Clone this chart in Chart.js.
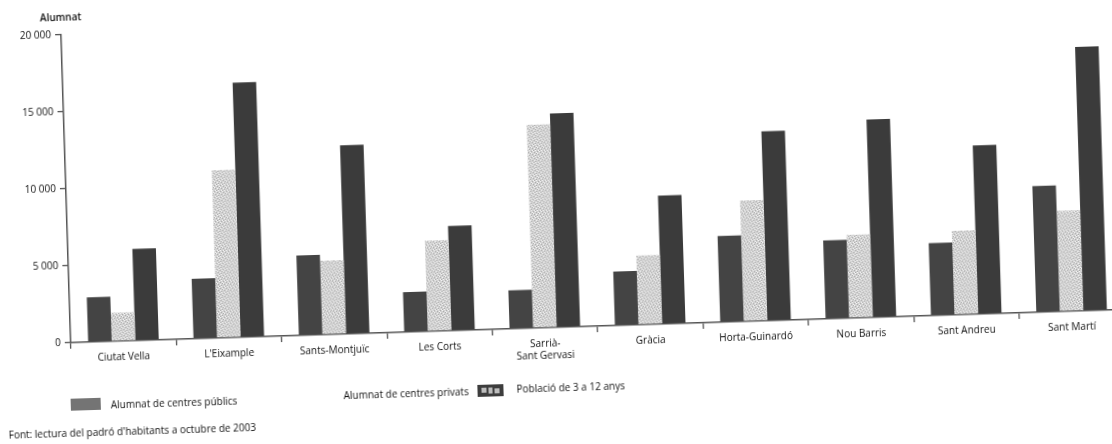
<!DOCTYPE html>
<html>
<head>
<meta charset="utf-8">
<script src="https://cdn.jsdelivr.net/npm/chart.js@4"></script>
<style>
  html, body { margin: 0; padding: 0; background: #fff; overflow: hidden; }
  #wrap {
    position: absolute; left: 0; top: 0; width: 1130px; height: 444px;
    transform-origin: 0 0;
    transform: translate(-8px, 0) rotate(-1.8deg);
  }
</style>
</head>
<body>
<div id="wrap"><canvas id="chart" width="1130" height="444"></canvas></div>
<script>
const districts = [
  "Ciutat Vella", "L'Eixample", "Sants-Montjuïc", "Les Corts",
  ["Sarrià-", "Sant Gervasi"], "Gràcia", "Horta-Guinardó",
  "Nou Barris", "Sant Andreu", "Sant Martí"
];
const publicStudents = [2900, 3900, 5200, 2600, 2500, 3500, 5600, 5100, 4700, 8200];
const privateStudents = [1850, 10900, 4800, 5900, 13200, 4500, 7850, 5400, 5450, 6550];
const population3to12 = [5950, 16550, 12250, 6800, 13900, 8350, 12300, 12850, 10950, 17150];
const yTicks = [0, 5000, 10000, 15000, 20000];

const FONT = "'Open Sans', 'DejaVu Sans', sans-serif";

function formatNumber(v) {
  return String(v).replace(/\B(?=(\d{3})+(?!\d))/g, " ");
}

// light speckled fill for the private-school bars
function makeSpeckle() {
  const c = document.createElement("canvas");
  c.width = 6;
  c.height = 6;
  const g = c.getContext("2d");
  g.fillStyle = "#d2d2d2";
  g.fillRect(0, 0, 6, 6);
  g.fillStyle = "#acacac";
  [[0, 0], [3, 1], [1, 3], [4, 4], [2, 5], [5, 2]].forEach(p => g.fillRect(p[0], p[1], 1, 1));
  g.fillStyle = "#f4f4f4";
  [[2, 0], [5, 1], [0, 2], [3, 3], [1, 5], [4, 5]].forEach(p => g.fillRect(p[0], p[1], 1, 1));
  return g.createPattern(c, "repeat");
}

const extrasPlugin = {
  id: "extras",
  afterDraw(chart) {
    const ctx = chart.ctx;
    const area = chart.chartArea;
    ctx.save();
    ctx.fillStyle = "#111";
    ctx.textBaseline = "middle";

    // axis title
    ctx.font = "600 10px " + FONT;
    ctx.textAlign = "center";
    ctx.fillText("Alumnat", area.left, 20);

    // legend
    ctx.font = "10px " + FONT;
    ctx.textAlign = "left";
    ctx.fillStyle = "#747474";
    ctx.fillRect(66, 401, 30, 12);
    ctx.fillStyle = "#111";
    ctx.fillText("Alumnat de centres públics", 106, 409);

    ctx.fillText("Alumnat de centres privats", 339, 407);

    ctx.fillStyle = "#3d3d3d";
    ctx.fillRect(473, 400, 26, 12);
    ctx.fillStyle = "#bdbdbd";
    ctx.fillRect(477, 403, 5, 5);
    ctx.fillRect(484, 403, 4, 6);
    ctx.fillRect(490, 404, 5, 5);
    ctx.fillStyle = "#111";
    ctx.fillText("Població de 3 a 12 anys", 512, 406);

    // source
    ctx.fillText("Font: lectura del padró d'habitants a octubre de 2003", 3, 436);
    ctx.restore();
  }
};

const ctx = document.getElementById("chart").getContext("2d");
const speckle = makeSpeckle();

new Chart(ctx, {
  type: "bar",
  data: {
    labels: districts,
    datasets: [
      {
        label: "Alumnat de centres públics",
        data: publicStudents,
        backgroundColor: "#444444",
      },
      {
        label: "Alumnat de centres privats",
        data: privateStudents,
        backgroundColor: speckle,
      },
      {
        label: "Població de 3 a 12 anys",
        data: population3to12,
        backgroundColor: "#3b3b3b",
      },
    ],
  },
  options: {
    responsive: false,
    animation: false,
    devicePixelRatio: 1,
    layout: { padding: { top: 37, right: 8, left: 0, bottom: 0 } },
    datasets: {
      bar: { categoryPercentage: 0.67, barPercentage: 1.0 }
    },
    plugins: {
      legend: { display: false },
      tooltip: { enabled: false },
    },
    scales: {
      x: {
        grid: {
          offset: true,
          drawOnChartArea: false,
          tickLength: 6,
          color: "#555",
          lineWidth: 1.3,
        },
        border: { color: "#555", width: 1.5 },
        ticks: {
          color: "#111",
          font: { family: FONT, size: 10 },
          padding: 4,
          maxRotation: 0,
          autoSkip: false,
        },
        afterFit(scale) {
          scale.height = 99;
        },
      },
      y: {
        min: 0,
        max: 20000,
        afterBuildTicks(scale) {
          scale.ticks = yTicks.map(v => ({ value: v }));
        },
        grid: {
          drawOnChartArea: false,
          tickLength: 6,
          color: "#555",
          lineWidth: 1.3,
        },
        border: { color: "#555", width: 1.5 },
        ticks: {
          color: "#111",
          font: { family: FONT, size: 10 },
          padding: 4,
          callback: v => formatNumber(v),
        },
        afterFit(scale) {
          scale.width = 68;
        },
      },
    },
  },
  plugins: [extrasPlugin],
});
</script>
</body>
</html>
